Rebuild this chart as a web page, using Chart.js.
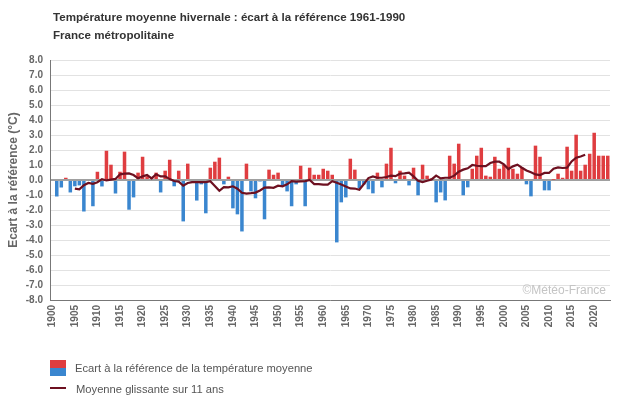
<!DOCTYPE html>
<html><head><meta charset="utf-8">
<script src="https://cdn.jsdelivr.net/npm/chart.js@4.4.0/dist/chart.umd.min.js"></script>
<style>
body{margin:0;background:#fff;font-family:"Liberation Sans",Arial,sans-serif;}
#wrap{position:relative;width:630px;height:405px;overflow:hidden;}
canvas{position:absolute;left:0;top:0;}
.t{position:absolute;white-space:nowrap;line-height:1;}
</style></head><body>
<div id="wrap">
<canvas id="c" width="630" height="405"></canvas>
<div class="t" style="left:53px;top:11px;font-weight:bold;font-size:11.6px;color:#333">Température moyenne hivernale : écart à la référence 1961-1990</div>
<div class="t" style="left:53px;top:29px;font-weight:bold;font-size:11.6px;color:#333">France métropolitaine</div>
<div class="t" style="right:24px;top:284px;font-size:12px;color:#c4c4c4">©Météo-France</div>
<div style="position:absolute;left:50px;top:360px;width:16px;height:8px;background:#df3d40"></div>
<div style="position:absolute;left:50px;top:368px;width:16px;height:8px;background:#3a86cf"></div>
<div class="t" style="left:75px;top:363px;font-size:11.2px;color:#555">Ecart à la référence de la température moyenne</div>
<div style="position:absolute;left:50px;top:387px;width:16px;height:2px;background:#6d1020"></div>
<div class="t" style="left:76px;top:384px;font-size:11.2px;color:#555">Moyenne glissante sur 11 ans</div>
</div>
<script>
// Winter years (categories)
const years = Array.from({length: 124}, (_, i) => 1900 + i);

// Anomaly vs 1961-1990 reference (°C), 1900..2023
const anomalies = [
  0.00, -1.10, -0.50,  0.15, -0.83, -0.42, -0.36, -2.10,  0.00, -1.75, // 1900-1909
  0.55, -0.43,  1.95,  1.02, -0.90,  0.55,  1.89, -1.98, -1.16,  0.49, // 1910-1919
  1.55,  0.25,  0.15,  0.49, -0.83,  0.62,  1.35, -0.42,  0.62, -2.76, // 1920-1929
  1.09, -0.12, -1.37, -0.29, -2.22,  0.82,  1.22,  1.49, -0.29,  0.22, // 1930-1939
 -1.89, -2.29, -3.43,  1.09, -0.76, -1.22, -0.10, -2.62,  0.69,  0.35, // 1940-1949
  0.49, -0.42, -0.76, -1.75, -0.29,  0.95, -1.75,  0.82,  0.35,  0.35, // 1950-1959
  0.75,  0.62,  0.35, -4.16, -1.49, -1.16,  1.42,  0.69, -0.56, -0.30, // 1960-1969
 -0.62, -0.89,  0.49, -0.49,  1.09,  2.15, -0.22,  0.62,  0.29, -0.36, // 1970-1979
  0.82, -1.02,  1.02,  0.29,  0.10, -1.49, -0.83, -1.36,  1.62,  1.09, // 1980-1989
  2.42, -1.02, -0.49,  0.75,  1.62,  2.15,  0.29,  0.22,  1.55,  0.75, // 1990-1999
  1.00,  2.15,  0.75,  0.42,  0.82, -0.29, -1.09,  2.29,  1.55, -0.69, // 2000-2009
 -0.69,  0.02,  0.42,  0.15,  2.22,  0.62,  3.02,  0.62,  1.02,  1.75, // 2010-2019
  3.15,  1.62,  1.62,  1.62                                            // 2020-2023
];

// 11-year moving average (°C), 1900..2023
const movingAvg = [
  null,  null,  null,  null,  null, -0.58, -0.62, -0.35, -0.20, -0.25, // 1900-1909
 -0.15,  0.06, -0.03,  0.02,  0.07,  0.38,  0.42,  0.44,  0.33,  0.11, // 1910-1919
  0.24,  0.33,  0.11,  0.38,  0.24,  0.24,  0.06, -0.07, -0.11, -0.38, // 1920-1929
 -0.20, -0.14, -0.14, -0.14, -0.14, -0.08, -0.40, -0.72, -0.48, -0.49, // 1930-1939
 -0.42, -0.58, -0.85, -0.91, -0.88, -0.84, -0.70, -0.51, -0.49, -0.52, // 1940-1949
 -0.38, -0.42, -0.29, -0.07, -0.11, -0.09, -0.07,  0.00, -0.27, -0.27, // 1950-1959
 -0.31, -0.31, -0.08, -0.18, -0.30, -0.43, -0.56, -0.57, -0.65, -0.27, // 1960-1969
  0.13,  0.24,  0.15,  0.15,  0.20,  0.29,  0.26,  0.42,  0.44,  0.49, // 1970-1979
  0.24, -0.05, -0.14, -0.05,  0.04,  0.29,  0.11,  0.15,  0.15,  0.29, // 1980-1989
  0.55,  0.69,  0.78,  1.00,  0.95,  0.93,  0.93,  1.13,  1.22,  1.22, // 1990-1999
  1.04,  0.73,  0.91,  1.02,  0.82,  0.64,  0.51,  0.37,  0.33,  0.47, // 2000-2009
  0.47,  0.75,  0.84,  0.80,  0.82,  1.24,  1.49,  1.57,  1.69,  null, // 2010-2019
  null,  null,  null,  null                                            // 2020-2023
];

// Y tick range
const yMin = -8, yMax = 8, yStep = 1;

const RED = '#df3d40', BLUE = '#3a86cf', LINE = '#6d1020';
const FAM = '"Liberation Sans", Arial, sans-serif';

new Chart(document.getElementById('c'), {
  data: {
    labels: years,
    datasets: [
      { type: 'line', data: movingAvg, borderColor: LINE, borderWidth: 2.2, pointRadius: 0,
        tension: 0, order: 0, spanGaps: false },
      { type: 'bar', data: anomalies, backgroundColor: anomalies.map(v => v >= 0 ? RED : BLUE),
        barPercentage: 0.78, categoryPercentage: 1, order: 1 }
    ]
  },
  options: {
    responsive: false, devicePixelRatio: 1, animation: false,
    layout: { padding: { top: 60, right: 20, left: 0, bottom: 0 } },
    plugins: { legend: { display: false }, tooltip: { enabled: false }, title: { display: false } },
    scales: {
      x: {
        type: 'category', offset: true,
        grid: { display: false, drawTicks: false },
        border: { display: true, color: '#777', width: 1 },
        ticks: {
          autoSkip: false, maxRotation: 90, minRotation: 90, padding: 5, color: '#666',
          font: { family: FAM, size: 10, weight: 'bold' },
          callback: function (v, i) { const y = years[i]; return y % 5 === 0 ? String(y) : null; }
        },
        afterFit(s) { s.height = 105; }
      },
      y: {
        min: yMin, max: yMax,
        grid: {
          color: c => c.tick && c.tick.value === 0 ? '#a0a0a0' : '#e2e2e2',
          lineWidth: c => c.tick && c.tick.value === 0 ? 2 : 1,
          drawTicks: false
        },
        border: { display: true, color: '#777', width: 1 },
        ticks: {
          stepSize: yStep, autoSkip: false, maxTicksLimit: 30, padding: 7, color: '#666',
          font: { family: FAM, size: 10, weight: 'bold' },
          callback: v => Number(v).toFixed(1)
        },
        title: {
          display: true, text: 'Ecart à la référence (°C)', color: '#666',
          font: { family: FAM, size: 12, weight: 'bold' }, padding: { top: 6, bottom: 0 }
        },
        afterFit(s) { s.width = 50; }
      }
    }
  }
});
</script>
</body></html>
